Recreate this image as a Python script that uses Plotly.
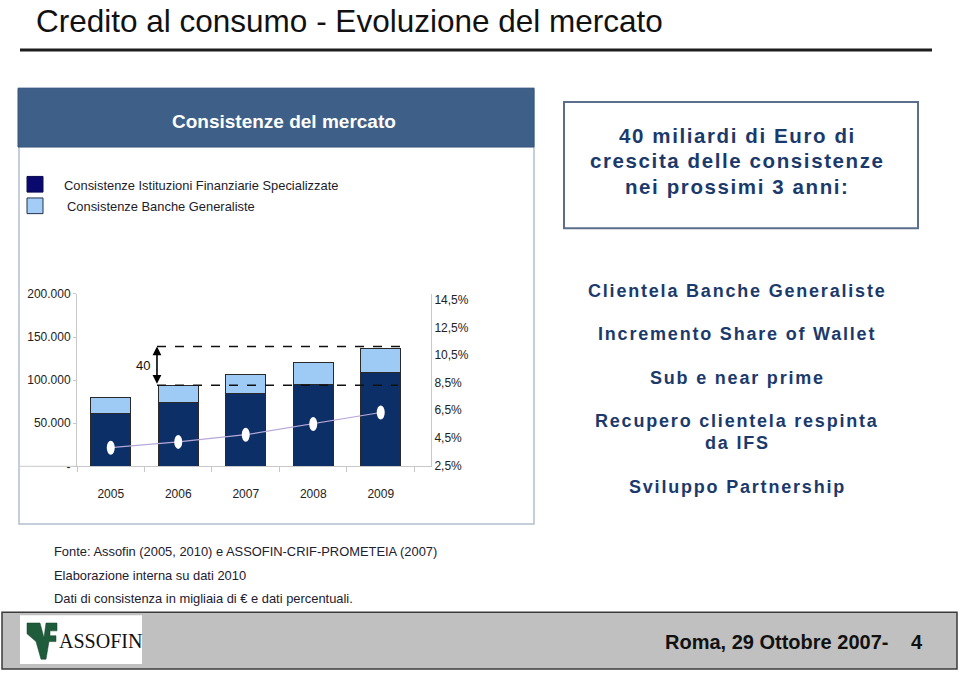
import plotly.graph_objects as go

W, H = 960, 677

# ---------------- data ----------------
years = ["2005", "2006", "2007", "2008", "2009"]
ifs_values = [61400, 73500, 84100, 95500, 108700]      # Istituzioni Finanziarie Specializzate
banks_values = [18100, 20000, 22700, 25300, 27700]     # Banche Generaliste
share_pct = [3.78, 4.20, 4.72, 5.50, 6.33]             # line on right axis (%)

left_tickvals = [0, 50000, 100000, 150000, 200000]
left_ticktext = ["-", "50.000", "100.000", "150.000", "200.000"]
right_tickvals = [2.5, 4.5, 6.5, 8.5, 10.5, 12.5, 14.5]
right_ticktext = ["2,5%", "4,5%", "6,5%", "8,5%", "10,5%", "12,5%", "14,5%"]

ref_levels = [94000, 139000]   # dashed reference levels (growth of 40)
growth_label = "40"

box_lines = ["40 miliardi di Euro di", "crescita delle consistenze", "nei prossimi 3 anni:"]
right_lines = [
    ["Clientela Banche Generaliste"],
    ["Incremento Share of Wallet"],
    ["Sub e near prime"],
    ["Recupero clientela respinta", "da IFS"],
    ["Sviluppo Partnership"],
]
notes = [
    "Fonte: Assofin (2005, 2010) e ASSOFIN-CRIF-PROMETEIA (2007)",
    "Elaborazione interna su dati 2010",
    "Dati di consistenza in migliaia di € e dati percentuali.",
]

# ---------------- helpers ----------------
def px(x):
    return x / W

def py(y):
    return 1 - y / H

SANS = "Liberation Sans, Arial, sans-serif"
NAVY_TXT = "#1b3a6b"
DARK_BAR = "#0b2f66"
LIGHT_BAR = "#9dcbf6"

annotations = []
shapes = []

def ann(x, y, text, size, color="#111111", family=SANS, xanchor="center"):
    annotations.append(dict(xref="paper", yref="paper", x=px(x), y=py(y),
                            xanchor=xanchor, yanchor="middle", showarrow=False,
                            text=text, font=dict(family=family, size=size, color=color)))

def spaced(t, sp):
    return f'<span style="letter-spacing:{sp}px"><b>{t}</b></span>'

fig = go.Figure()

fig.add_trace(go.Bar(
    x=years, y=ifs_values, name="Consistenze Istituzioni Finanziarie Specializzate",
    marker=dict(color=DARK_BAR, line=dict(color="#2a2a2a", width=1)), width=0.59,
))
fig.add_trace(go.Bar(
    x=years, y=banks_values, name="Consistenze Banche Generaliste",
    marker=dict(color=LIGHT_BAR, line=dict(color="#2a2a2a", width=1)), width=0.59,
))
fig.add_trace(go.Scatter(
    x=years, y=share_pct, yaxis="y2", mode="lines",
    line=dict(color="#b7a8da", width=1.2), showlegend=False,
))

# title + underline
shapes.append(dict(type="line", xref="paper", yref="paper",
                   x0=px(20), x1=px(932), y0=py(44), y1=py(44),
                   line=dict(color="#1e1e1e", width=3)))
ann(34, 14, "Credito al consumo - Evoluzione del mercato", 31.5, "#111111", SANS, "left")

# left panel
shapes.append(dict(type="rect", xref="paper", yref="paper", layer="below",
                   x0=px(19), x1=px(534), y0=py(528), y1=py(83),
                   line=dict(color="#b3bfd0", width=1.5), fillcolor="white"))
shapes.append(dict(type="rect", xref="paper", yref="paper", layer="below",
                   x0=px(18), x1=px(534), y0=py(143), y1=py(83),
                   line=dict(color="#35557d", width=1), fillcolor="#3e5f88"))
ann(284, 117, "<b>Consistenze del mercato</b>", 19, "white")

# custom legend
shapes.append(dict(type="rect", xref="paper", yref="paper",
                   x0=px(27), x1=px(43), y0=py(189), y1=py(173),
                   line=dict(color="#0a0a50", width=1), fillcolor="#0a0a6e"))
shapes.append(dict(type="rect", xref="paper", yref="paper",
                   x0=px(27), x1=px(43), y0=py(211), y1=py(195),
                   line=dict(color="#23324a", width=1), fillcolor="#a3cdf7"))
ann(62, 182, "Consistenze Istituzioni Finanziarie Specializzate", 12.9, "#1c1c2c", SANS, "left")
ann(65, 204, "Consistenze Banche Generaliste", 12.9, "#1c1c2c", SANS, "left")

# x-axis baseline extension to the left
shapes.append(dict(type="line", xref="paper", yref="paper",
                   x0=px(20), x1=px(77), y0=py(469), y1=py(469),
                   line=dict(color="#c8c8c8", width=1)))

# dashed reference levels
shapes.append(dict(type="line", xref="x", yref="y", x0=0.685, x1=4.256,
                   y0=ref_levels[0], y1=ref_levels[0],
                   line=dict(color="#111111", width=1.5, dash="dash")))
shapes.append(dict(type="line", xref="x", yref="y", x0=0.685, x1=4.39,
                   y0=ref_levels[1], y1=ref_levels[1],
                   line=dict(color="#111111", width=1.5, dash="dash")))
annotations.append(dict(xref="x", yref="y", x=0.685, y=ref_levels[1],
                        axref="x", ayref="y", ax=0.685, ay=ref_levels[0],
                        showarrow=True, arrowhead=2, arrowside="end+start",
                        arrowsize=1.1, arrowwidth=1.6, arrowcolor="#000000", text=""))
annotations.append(dict(xref="x", yref="y", x=0.478, y=(ref_levels[0] + ref_levels[1]) / 2,
                        xanchor="center", yanchor="middle",
                        showarrow=False, text=growth_label,
                        font=dict(family=SANS, size=13, color="#111111")))

# white elliptical markers on the line
for i, v in enumerate(share_pct):
    shapes.append(dict(type="circle", xref="x", yref="y2",
                       xsizemode="pixel", ysizemode="pixel",
                       xanchor=i, yanchor=v, x0=-4, x1=4, y0=-7, y1=7,
                       fillcolor="white", line=dict(color="white", width=0), layer="above"))

# right box
shapes.append(dict(type="rect", xref="paper", yref="paper", layer="below",
                   x0=px(564), x1=px(918), y0=py(226), y1=py(97),
                   line=dict(color="#5b6f8c", width=2), fillcolor="white"))
for i, t in enumerate(box_lines):
    ann(737, 131 + 26 * i, spaced(t, 1.6), 20.5, NAVY_TXT)

# right bullet texts
right_y = [290, 334, 379, 423, 490]
for lines, yy in zip(right_lines, right_y):
    for j, t in enumerate(lines):
        ann(737, yy + 22 * j, spaced(t, 1.8), 18, NAVY_TXT)

# notes
for i, t in enumerate(notes):
    ann(52, 556 + 24 * i, t, 12.9, "#1c2030", SANS, "left")

# footer
shapes.append(dict(type="rect", xref="paper", yref="paper", layer="below",
                   x0=px(2), x1=px(957), y0=py(676), y1=py(618),
                   line=dict(color="#3a3a3a", width=1.5), fillcolor="#c0c0c0"))
shapes.append(dict(type="rect", xref="paper", yref="paper",
                   x0=px(20), x1=px(142), y0=py(671), y1=py(621),
                   line=dict(color="white", width=0), fillcolor="white"))
logo_pts = [(27, 629), (40, 629), (44, 644), (46, 629), (57, 629), (57, 637), (50, 637),
            (50, 642), (56, 642), (56, 648), (49, 648), (46, 666), (41, 666), (36, 648), (27, 640)]
path = "M " + " L ".join(f"{px(a):.5f},{py(b):.5f}" for a, b in logo_pts) + " Z"
shapes.append(dict(type="path", xref="paper", yref="paper", path=path,
                   fillcolor="#1f5c3b", line=dict(color="#163f2a", width=0.5)))
ann(100, 647, "ASSOFIN", 20, "#111111", "Liberation Serif, Times New Roman, serif")
ann(663, 648, "<b>Roma, 29 Ottobre 2007-</b>", 20, "#111111", SANS, "left")
ann(917, 648, "<b>4</b>", 20, "#111111")

fig.update_layout(
    width=W, height=H, margin=dict(l=0, r=0, t=0, b=0),
    paper_bgcolor="white", plot_bgcolor="rgba(0,0,0,0)",
    barmode="stack", showlegend=False,
    font=dict(family=SANS, size=12, color="#222222"),
    xaxis=dict(type="category", domain=[px(77), px(431)], range=[-0.5, 4.745],
               showline=True, linecolor="#c8c8c8", linewidth=1,
               ticks="outside", tickson="boundaries", ticklen=5, tickcolor="#c8c8c8",
               showgrid=False, tickfont=dict(size=12, color="#222222"),
               ticklabelstandoff=16, fixedrange=True),
    yaxis=dict(domain=[py(469), py(293)], range=[0, 200000],
               tickvals=left_tickvals, ticktext=left_ticktext,
               showline=True, linecolor="#c8c8c8", linewidth=1,
               ticks="outside", ticklen=3, tickcolor="#c8c8c8",
               showgrid=False, zeroline=False, tickfont=dict(size=12, color="#222222")),
    yaxis2=dict(overlaying="y", side="right", range=[2.43, 14.93],
                tickvals=right_tickvals, ticktext=right_ticktext,
                showline=True, linecolor="#c8c8c8", linewidth=1,
                ticks="", showgrid=False, zeroline=False,
                tickfont=dict(size=12, color="#222222")),
    shapes=shapes, annotations=annotations,
)

fig.write_html("out.html", include_plotlyjs=True,
               config={"displayModeBar": False, "staticPlot": True},
               post_script="document.body.style.margin='0';document.body.style.overflow='hidden';")
